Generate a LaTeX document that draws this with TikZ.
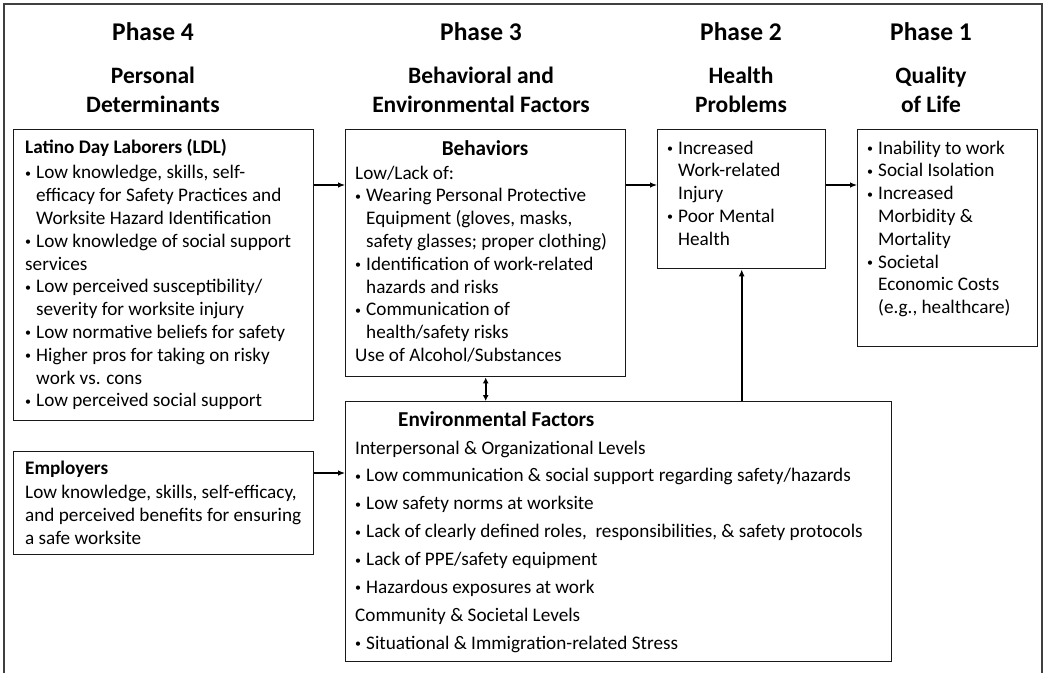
\documentclass[tikz,border=0pt]{standalone}
\usepackage{fontspec}
\setmainfont{Carlito}
\usetikzlibrary{arrows.meta}
% small bullet and matching hanging indent
\newcommand\bul{\makebox[11pt][l]{\raisebox{1.6pt}{\fontsize{12}{12}\selectfont\textbullet}}}
\newcommand\ind{\hspace*{11pt}}
\begin{document}
\begin{tikzpicture}[x=1pt,y=-1pt,
  box/.style={draw=black!90, line width=1.4pt, anchor=north west, inner sep=0pt},
  txt/.style={anchor=base west, inner sep=0pt, font=\fontsize{19.2}{22.8}\selectfont},
  ttl/.style={anchor=base, inner sep=0pt, font=\fontsize{21.2}{24}\selectfont\bfseries},
  head/.style={anchor=base, inner sep=0pt, font=\fontsize{23.5}{29}\selectfont\bfseries},
  phase/.style={head, font=\fontsize{25.5}{29}\selectfont\bfseries},
  link/.style={line width=1.1pt, -{Latex[length=7pt,width=5.5pt]}},
  bold link/.style={line width=1.8pt, -{Latex[length=7pt,width=6pt]}},
  frame/.style={draw=black!75, line width=1.3pt}
]
\useasboundingbox (0,0) rectangle (1047,673);
% open outer frame
\draw[frame] (4,673) -- (4,4) -- (1042,4) -- (1042,673);

% phase headings
\node[phase] (p4) at (153,40) {Phase 4};
\node[head] (p4a) at (153,83) {Personal};
\node[head] (p4b) at (153,112) {Determinants};
\node[phase] (p3) at (481,40) {Phase 3};
\node[head] (p3a) at (481,83) {Behavioral and};
\node[head] (p3b) at (481,112) {Environmental Factors};
\node[phase] (p2) at (741,40) {Phase 2};
\node[head] (p2a) at (741,83) {Health};
\node[head] (p2b) at (741,112) {Problems};
\node[phase] (p1) at (931,40) {Phase 1};
\node[head] (p1a) at (931,83) {Quality};
\node[head] (p1b) at (931,112) {of Life};

% boxes
\node[box, minimum width=300pt, minimum height=291pt] (ldl) at (13,129) {};
\node[box, minimum width=300pt, minimum height=103pt] (emp) at (13,451) {};
\node[box, minimum width=280pt, minimum height=247pt] (beh) at (345,129) {};
\node[box, minimum width=546pt, minimum height=260pt] (env) at (345,401) {};
\node[box, minimum width=168pt, minimum height=139pt] (hp) at (657,129) {};
\node[box, minimum width=180pt, minimum height=217pt] (qol) at (857,129) {};

% box contents
\node[txt] (ldlt) at (25,153) {\parbox[t]{290pt}{\raggedright
  \textbf{Latino Day Laborers (LDL)}\\[3pt]
  \bul Low knowledge, skills, self-\\
  \ind efficacy for Safety Practices and\\
  \ind Worksite Hazard Identification\\
  \bul Low knowledge of social support\\
  services\\
  \bul Low perceived susceptibility/\\
  \ind severity for worksite injury\\
  \bul Low normative beliefs for safety\\
  \bul Higher pros for taking on risky\\
  \ind work vs. cons\\
  \bul Low perceived social support}};

\node[txt] (empt) at (25,474) {\parbox[t]{290pt}{\raggedright
  \textbf{Employers}\\[2pt]
  Low knowledge, skills, self-efficacy,\\
  and perceived benefits for ensuring\\
  a safe worksite}};

\node[ttl] (beht) at (485,155) {Behaviors};
\node[txt] (behb) at (355,179) {\parbox[t]{268pt}{\raggedright
  Low/Lack of:\\
  \bul Wearing Personal Protective\\
  \ind Equipment (gloves, masks,\\
  \ind safety glasses; proper clothing)\\
  \bul Identification of work-related\\
  \ind hazards and risks\\
  \bul Communication of\\
  \ind health/safety risks\\
  Use of Alcohol/Substances}};

\node[ttl, anchor=base west] (envt) at (398,426) {Environmental Factors};
\node[txt, font=\fontsize{19.2}{27.9}\selectfont] (envb) at (355,454) {\parbox[t]{530pt}{\raggedright
  Interpersonal \& Organizational Levels\\
  \bul Low communication \& social support regarding safety/hazards\\
  \bul Low safety norms at worksite\\
  \bul Lack of clearly defined roles,\ \ responsibilities, \& safety protocols\\
  \bul Lack of PPE/safety equipment\\
  \bul Hazardous exposures at work\\
  Community \& Societal Levels\\
  \bul Situational \& Immigration-related Stress}};

\node[txt] (hpt) at (667,154) {\parbox[t]{155pt}{\raggedright
  \bul Increased\\
  \ind Work-related\\
  \ind Injury\\
  \bul Poor Mental\\
  \ind Health}};

\node[txt] (qolt) at (867,154) {\parbox[t]{168pt}{\raggedright
  \bul Inability to work\\
  \bul Social Isolation\\
  \bul Increased\\
  \ind Morbidity \&\\
  \ind Mortality\\
  \bul Societal\\
  \ind Economic Costs\\
  \ind (e.g., healthcare)}};

% connectors
\draw[link] ([yshift=-56pt]ldl.north east) -- ([yshift=-56pt]beh.north west);
\draw[link] ([yshift=-56pt]beh.north east) -- ([yshift=-56pt]hp.north west);
\draw[link] ([yshift=-56pt]hp.north east) -- ([yshift=-56pt]qol.north west);
\draw[link] ([yshift=-22pt]emp.north east) -- ([yshift=-72pt]env.north west);
\draw[bold link, {Latex[length=6pt,width=6pt]}-{Latex[length=6pt,width=6pt]}] (beh.south) -- (beh.south |- env.north);
\draw[bold link] (hp.south |- env.north) -- (hp.south);
\end{tikzpicture}
\end{document}
